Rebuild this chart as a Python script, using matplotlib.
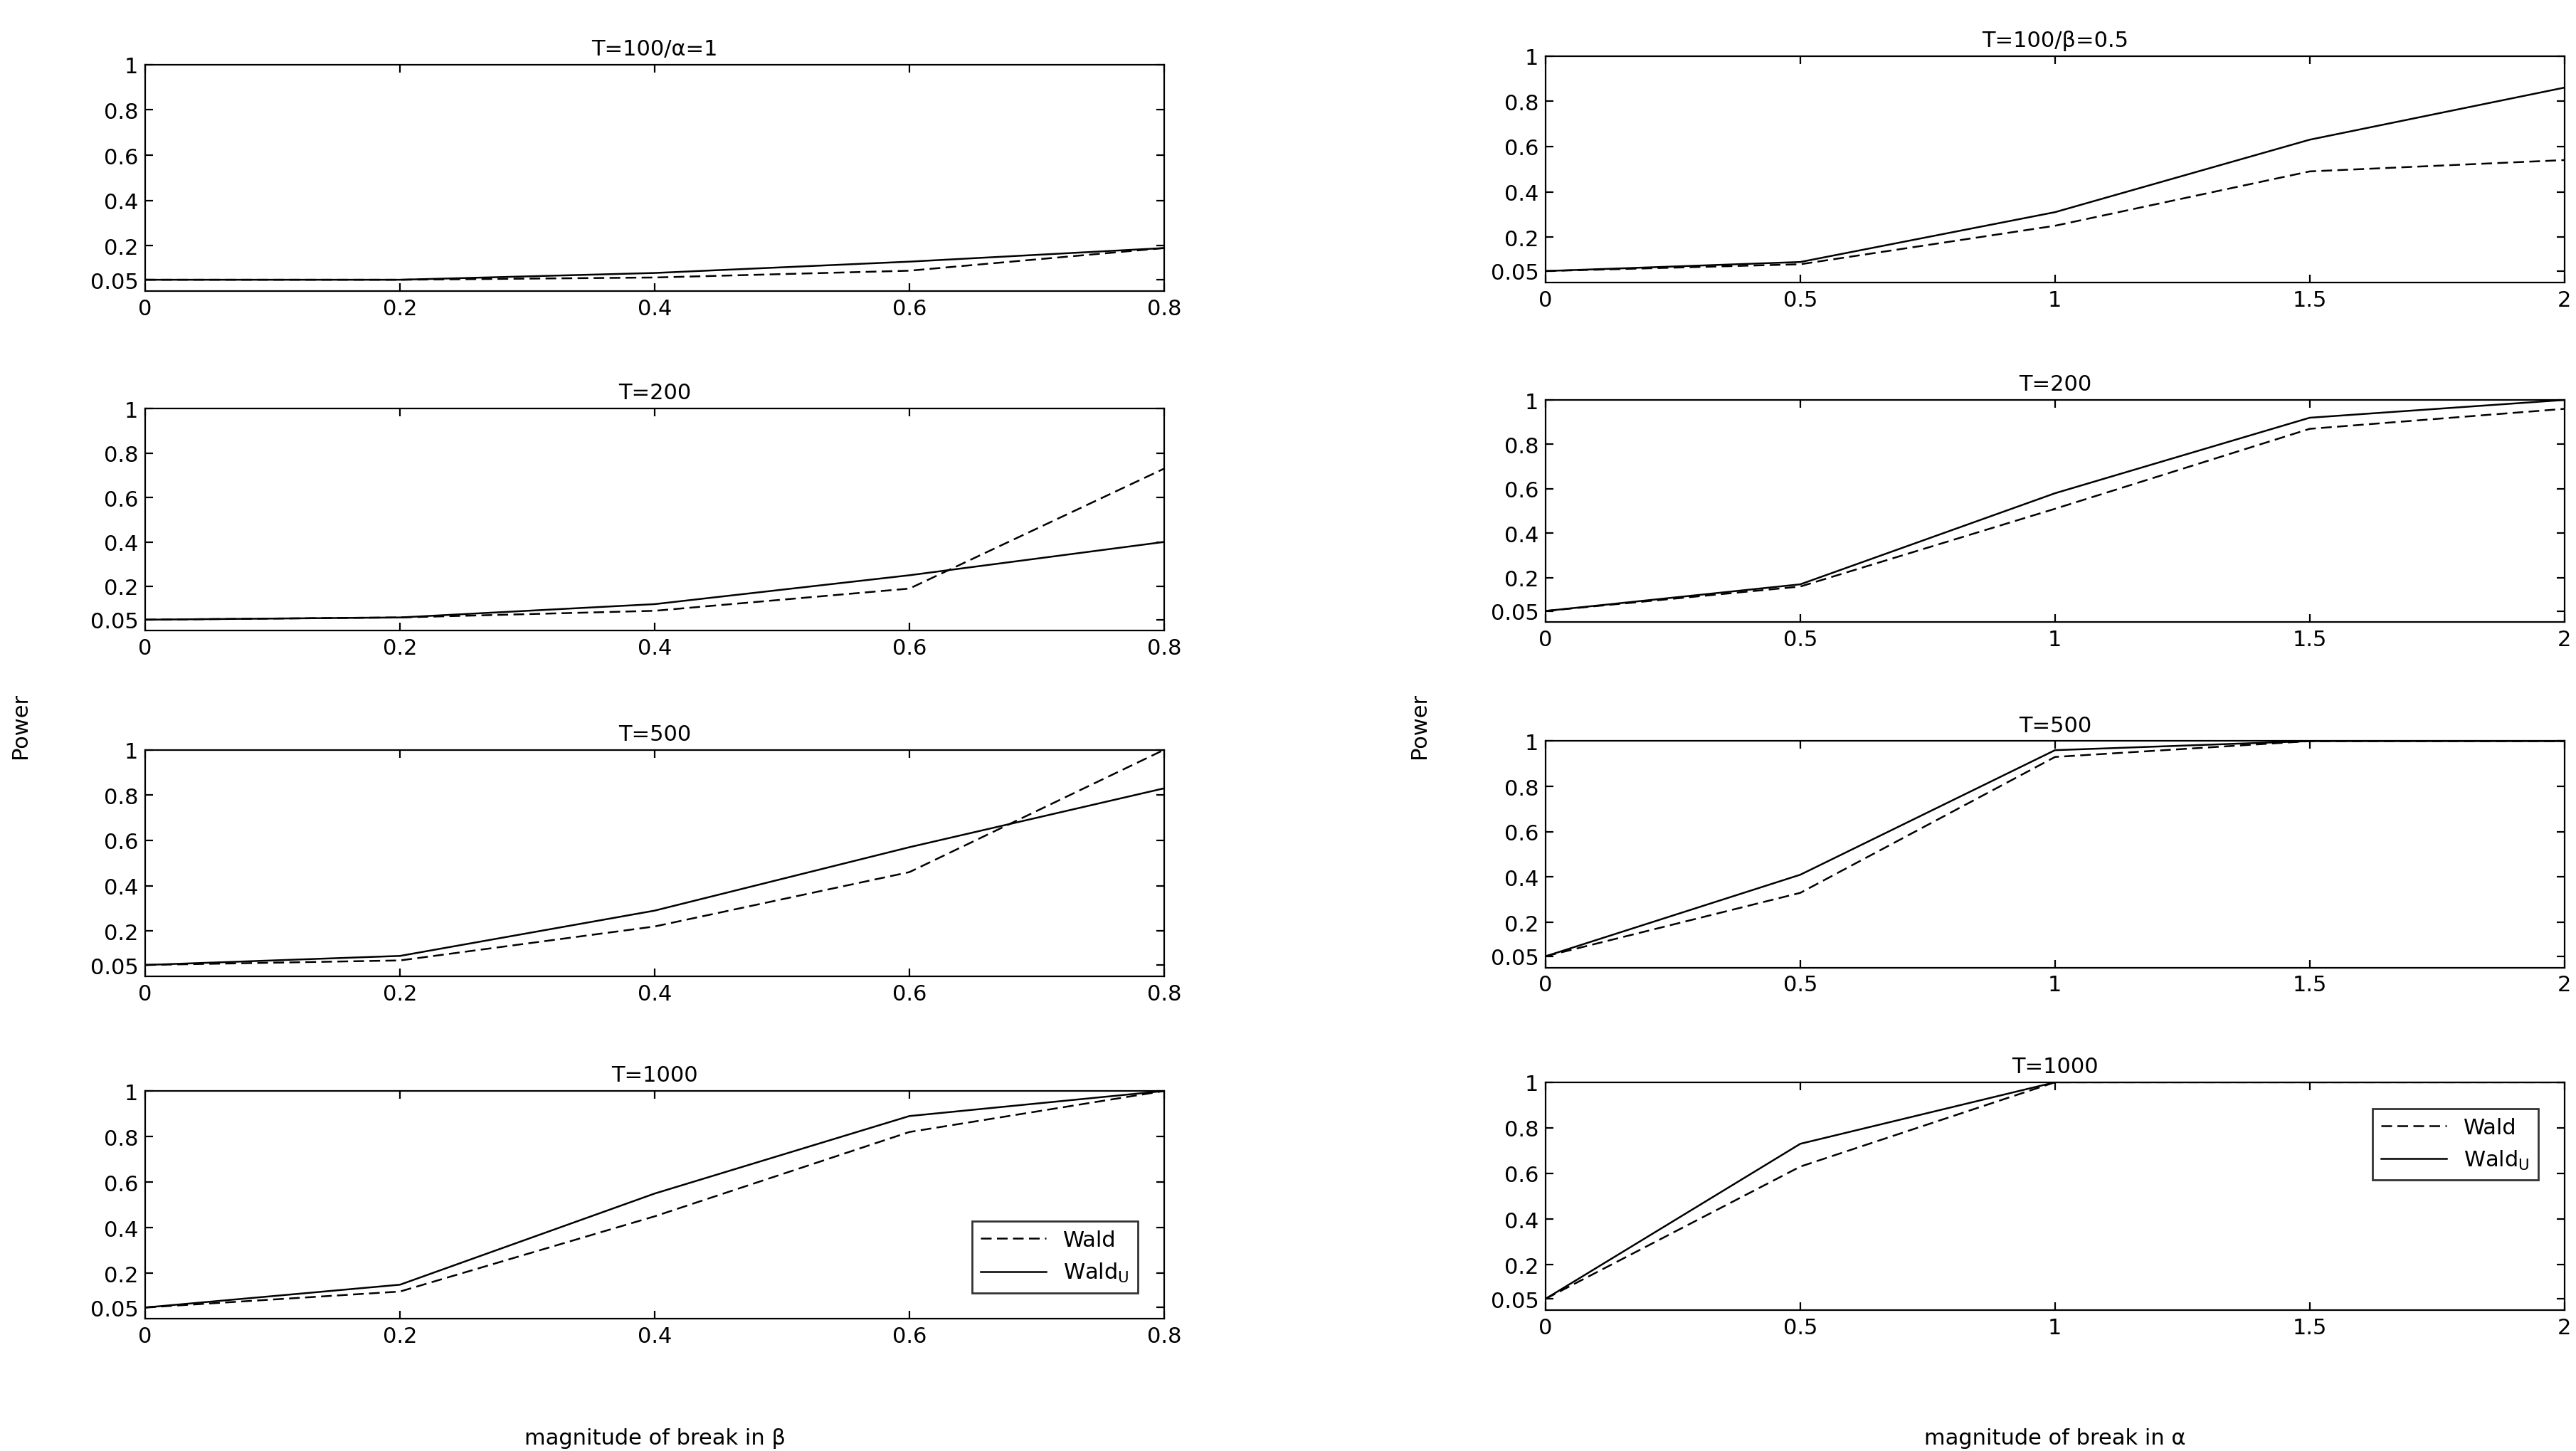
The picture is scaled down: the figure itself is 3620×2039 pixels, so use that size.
import matplotlib.pyplot as plt

x_beta = [0, 0.2, 0.4, 0.6, 0.8]
x_alpha = [0, 0.5, 1, 1.5, 2]
titles_left = ["T=100/\u03b1=1", "T=200", "T=500", "T=1000"]
titles_right = ["T=100/\u03b2=0.5", "T=200", "T=500", "T=1000"]

wald_beta = [
    [0.05, 0.05, 0.06, 0.09, 0.19],
    [0.05, 0.06, 0.09, 0.19, 0.73],
    [0.05, 0.07, 0.22, 0.46, 1.00],
    [0.05, 0.12, 0.45, 0.82, 1.00],
]
waldu_beta = [
    [0.05, 0.05, 0.08, 0.13, 0.19],
    [0.05, 0.06, 0.12, 0.25, 0.40],
    [0.05, 0.09, 0.29, 0.57, 0.83],
    [0.05, 0.15, 0.55, 0.89, 1.00],
]
wald_alpha = [
    [0.05, 0.08, 0.25, 0.49, 0.54],
    [0.05, 0.16, 0.51, 0.87, 0.96],
    [0.05, 0.33, 0.93, 1.00, 1.00],
    [0.05, 0.63, 1.00, 1.00, 1.00],
]
waldu_alpha = [
    [0.05, 0.09, 0.31, 0.63, 0.86],
    [0.05, 0.17, 0.58, 0.92, 1.00],
    [0.05, 0.41, 0.96, 1.00, 1.00],
    [0.05, 0.73, 1.00, 1.00, 1.00],
]
yticks = [0.05, 0.2, 0.4, 0.6, 0.8, 1]
ytick_labels = ["0.05", "0.2", "0.4", "0.6", "0.8", "1"]

plt.rcParams['font.family'] = 'DejaVu Sans'
plt.rcParams['font.size'] = 11
fig = plt.figure(figsize=(18.1, 10.2), dpi=200)

bottoms = [0.799, 0.565, 0.327, 0.091]
heights = [0.156, 0.153, 0.156, 0.157]
lefts = [0.0564, 0.6]
width = 0.3955

for col, (xs, titles, wald, waldu, xticks) in enumerate([
        (x_beta, titles_left, wald_beta, waldu_beta, x_beta),
        (x_alpha, titles_right, wald_alpha, waldu_alpha, [0, 0.5, 1, 1.5, 2])]):
    for r in range(4):
        b = bottoms[r] + (0.006 if col == 1 else 0)
        ax = fig.add_axes([lefts[col], b, width, heights[r]])
        ax.plot(xs, wald[r], 'k--', lw=0.9, dashes=(6, 3), label="Wald")
        ax.plot(xs, waldu[r], 'k-', lw=0.9, label="Wald$_\\mathrm{U}$")
        ax.set_xlim(xs[0], xs[-1])
        ax.set_ylim(0, 1)
        ax.set_yticks(yticks)
        ax.set_yticklabels(ytick_labels)
        ax.set_xticks(xticks)
        ax.set_xticklabels([f"{t:g}" for t in xticks])
        ax.tick_params(direction='in', top=True, right=True, length=4)
        ax.set_title(titles[r], fontsize=11, pad=5)
        if r == 3:
            loc = 'lower right' if col == 0 else 'upper right'
            ax.legend(loc=loc, fancybox=False, edgecolor='k', fontsize=11,
                      handlelength=3, borderaxespad=1.2)

fig.text(0.004, 0.5, "Power", rotation=90, va='center', fontsize=11)
fig.text(0.547, 0.5, "Power", rotation=90, va='center', fontsize=11)
fig.text(lefts[0] + width / 2, 0.005, "magnitude of break in \u03b2", ha='center', fontsize=11)
fig.text(lefts[1] + width / 2, 0.005, "magnitude of break in \u03b1", ha='center', fontsize=11)

fig.savefig("out.png", dpi=200)
